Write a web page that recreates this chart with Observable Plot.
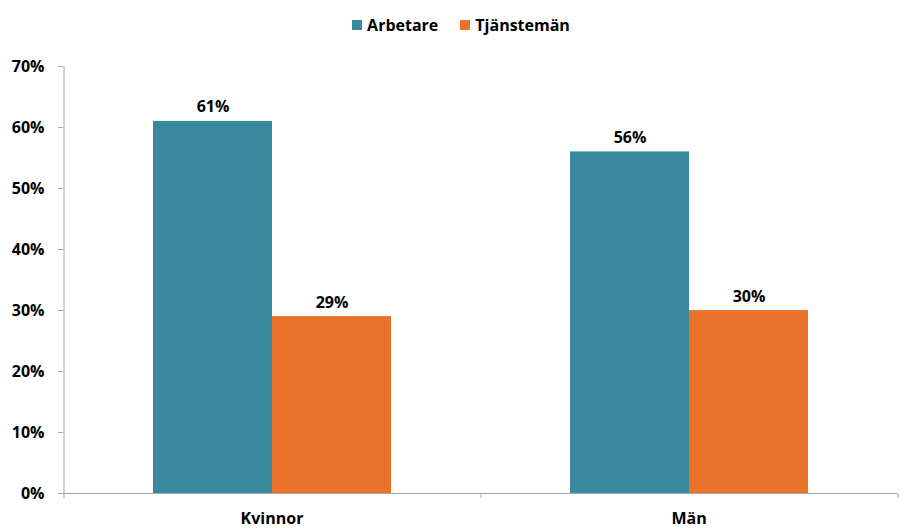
<!DOCTYPE html>
<html><head><meta charset="utf-8">
<script src="https://cdn.jsdelivr.net/npm/d3@7"></script>
<script src="https://cdn.jsdelivr.net/npm/@observablehq/plot@0.6"></script>
<style>
body{margin:0;background:#fff;font-family:"Open Sans",sans-serif;}
#legend{height:44px;box-sizing:border-box;padding-top:6px;display:flex;justify-content:center;align-items:center;gap:22px;font-weight:bold;font-size:16px;color:#000;}
#legend .item{display:flex;align-items:center;}
#legend .sw{width:10px;height:10px;margin-right:5px;display:inline-block;}
</style>
</head><body>
<div id="legend"></div>
<div id="chart"></div>
<script>
const groups = ["Kvinnor", "Män"];
const series = ["Arbetare", "Tjänstemän"];
const arbetare = [0.61, 0.56];
const tjansteman = [0.29, 0.30];
const yTicks = [0, 0.1, 0.2, 0.3, 0.4, 0.5, 0.6, 0.7];
const colors = ["#3888A0", "#E97328"];

const data = groups.flatMap((g, i) => [
  {group: g, series: series[0], value: arbetare[i]},
  {group: g, series: series[1], value: tjansteman[i]}
]);

// legend
const leg = document.getElementById("legend");
series.forEach((s, i) => {
  const it = document.createElement("div");
  it.className = "item";
  it.innerHTML = `<span class="sw" style="background:${colors[i]}"></span><span>${s}</span>`;
  leg.appendChild(it);
});

const W = 922, H = 484, mL = 63, mR = 25, mT = 22, mB = 35;
const padOuter = 0.752;
const facetW = (W - mL - mR) / groups.length;
const step = facetW / (series.length + 2 * padOuter);
const halfBand = step * padOuter + step / 2;
const tickExt = 0.7 * 5 / (H - mT - mB);
const gray = "#A6A6A6";
const fmt = d3.format(".0%");

const plot = Plot.plot({
  width: W, height: H,
  marginLeft: mL, marginRight: mR, marginTop: mT, marginBottom: mB,
  style: {fontFamily: "Open Sans", fontSize: "16px", fontWeight: "bold", color: "black", background: "white", overflow: "visible"},
  fx: {domain: groups, padding: 0, axis: null},
  x: {domain: series, paddingInner: 0, paddingOuter: padOuter, axis: null},
  y: {domain: [0, 0.7], axis: null},
  color: {domain: series, range: colors},
  marks: [
    Plot.barY(data, {fx: "group", x: "series", y: "value", fill: "series"}),
    Plot.ruleY([0], {stroke: gray}),
    Plot.ruleX([groups[0]], {fx: d => d, x: () => series[0], dx: -halfBand, y1: 0, y2: 0.7, stroke: gray}),
    Plot.ruleX(groups, {fx: d => d, x: () => series[0], dx: -halfBand, y1: -tickExt, y2: 0, stroke: gray}),
    Plot.ruleX([groups[groups.length - 1]], {fx: d => d, x: () => series[series.length - 1], dx: halfBand, y1: -tickExt, y2: 0, stroke: gray}),
    Plot.axisY(yTicks, {tickFormat: fmt, tickSize: 5, tickPadding: 14, stroke: gray, fill: "black", fontWeight: "bold", fontSize: 16, label: null}),
    Plot.axisFx({anchor: "bottom", tickSize: 0, tickPadding: 19, label: null, fontWeight: "bold", fontSize: 16, fill: "black"}),
    Plot.text(data, {fx: "group", x: "series", y: "value", text: d => fmt(d.value), lineAnchor: "bottom", dy: -9, fontSize: 16, fontWeight: "bold", fill: "black"})
  ]
});
document.getElementById("chart").appendChild(plot);
</script>
</body></html>
